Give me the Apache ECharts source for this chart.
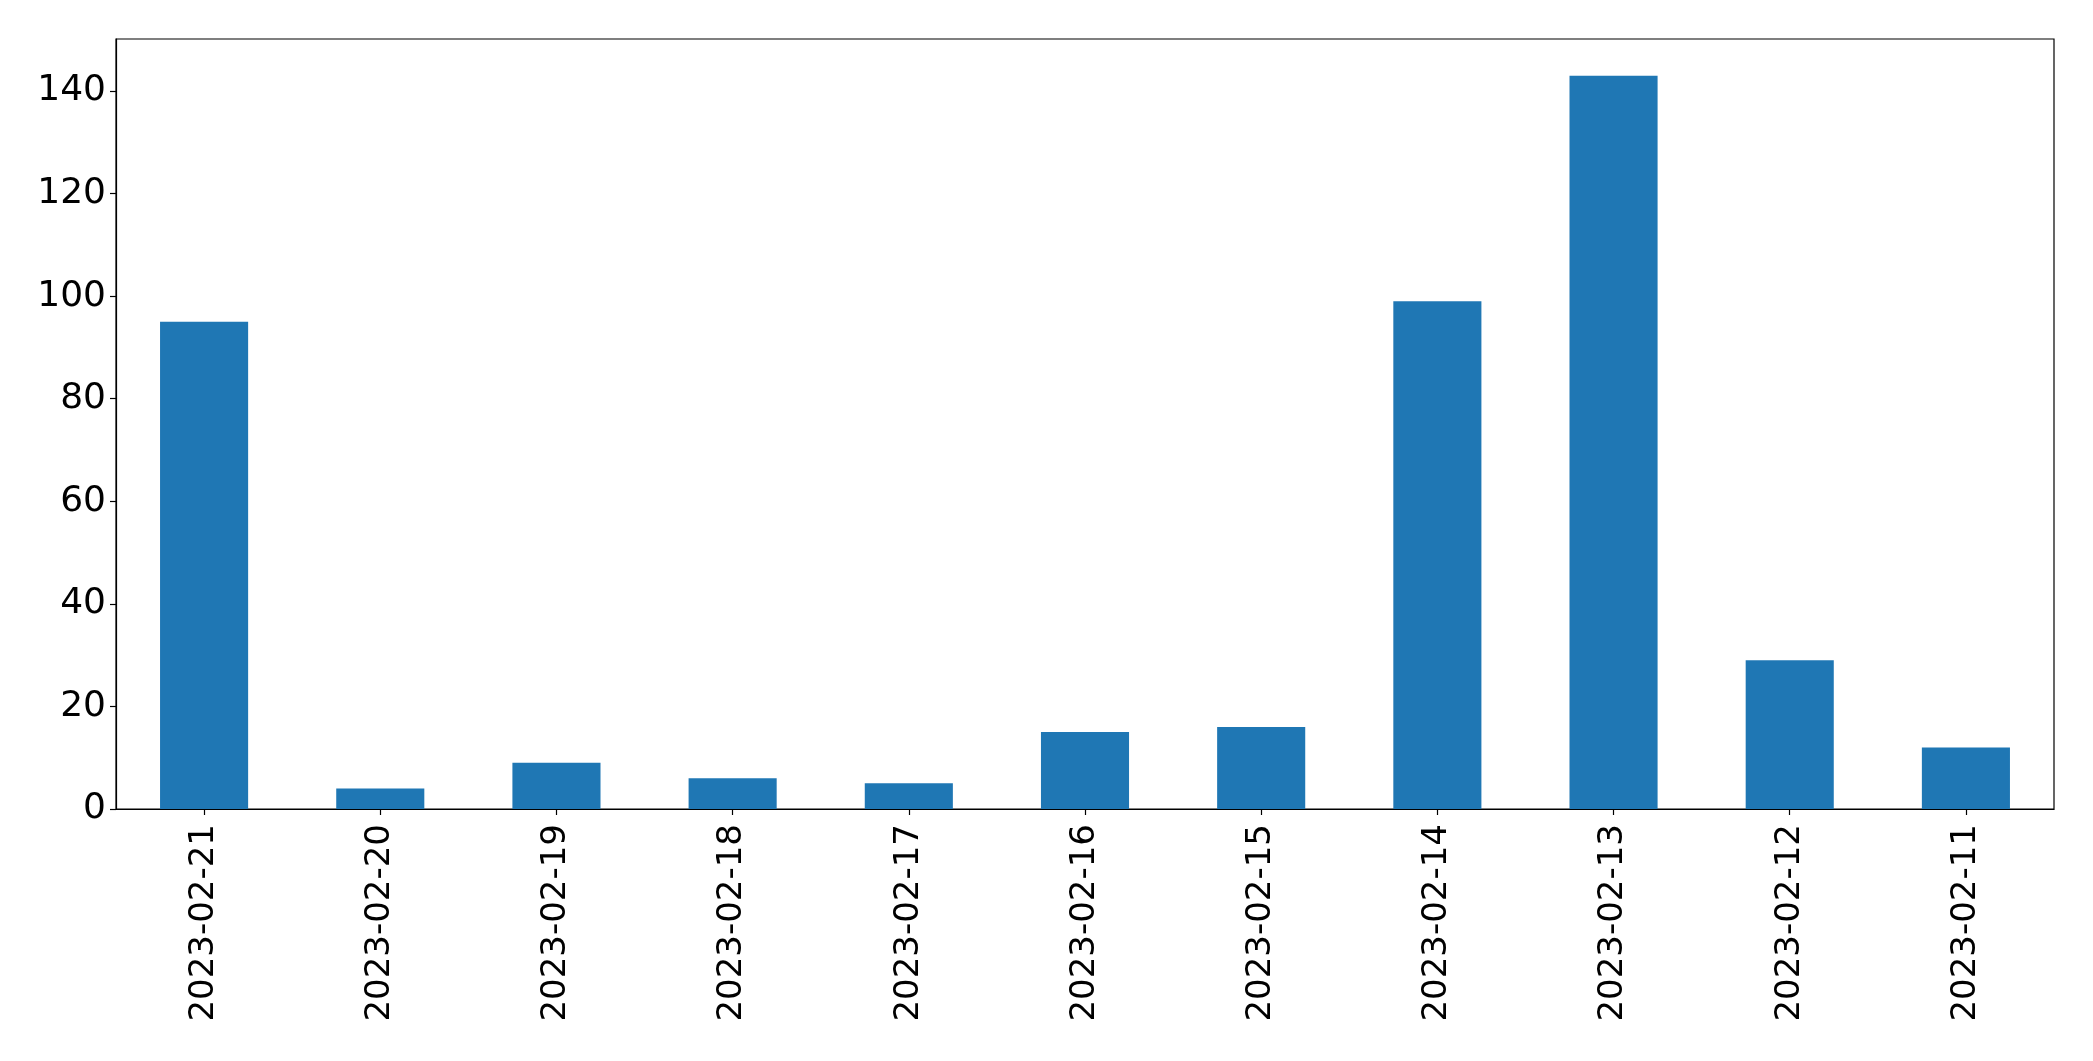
<!DOCTYPE html>
<html>
<head>
<meta charset="utf-8">
<script src="https://cdn.jsdelivr.net/npm/echarts@6/dist/echarts.min.js"></script>
<style>html,body{margin:0;padding:0;background:#fff;}#c{width:2093px;height:1061px;}</style>
</head>
<body>
<div id="c"></div>
<script>
const categories = ['2023-02-21','2023-02-20','2023-02-19','2023-02-18','2023-02-17','2023-02-16','2023-02-15','2023-02-14','2023-02-13','2023-02-12','2023-02-11'];
const values = [95, 4, 9, 6, 5, 15, 16, 99, 143, 29, 12];
const yTicks = [0, 20, 40, 60, 80, 100, 120, 140];

const chart = echarts.init(document.getElementById('c'));
const font = 'DejaVu Sans';
chart.setOption({
  animation: false,
  grid: { left: 116, top: 39, right: 39, bottom: 252, show: true, borderColor: '#000', borderWidth: 1.2, backgroundColor: 'transparent' },
  xAxis: {
    type: 'category',
    data: categories,
    boundaryGap: true,
    axisLine: { show: true, lineStyle: { color: '#000', width: 1.2 } },
    axisTick: { show: true, alignWithLabel: true, length: 6, lineStyle: { color: '#000', width: 1.2 } },
    axisLabel: { rotate: 90, margin: 15, fontFamily: font, fontSize: 34, color: '#000', interval: 0 },
    splitLine: { show: false }
  },
  yAxis: {
    type: 'value',
    min: 0,
    max: 150.15,
    interval: 20,
    axisLine: { show: true, lineStyle: { color: '#000', width: 1.2 } },
    axisTick: { show: true, length: 6, customValues: yTicks, lineStyle: { color: '#000', width: 1.2 } },
    axisLabel: { margin: 10, fontFamily: font, fontSize: 36, color: '#000', customValues: yTicks },
    splitLine: { show: false }
  },
  series: [{
    type: 'bar',
    data: values,
    barWidth: '50%',
    itemStyle: { color: '#1f77b4' }
  }]
});
</script>
</body>
</html>
